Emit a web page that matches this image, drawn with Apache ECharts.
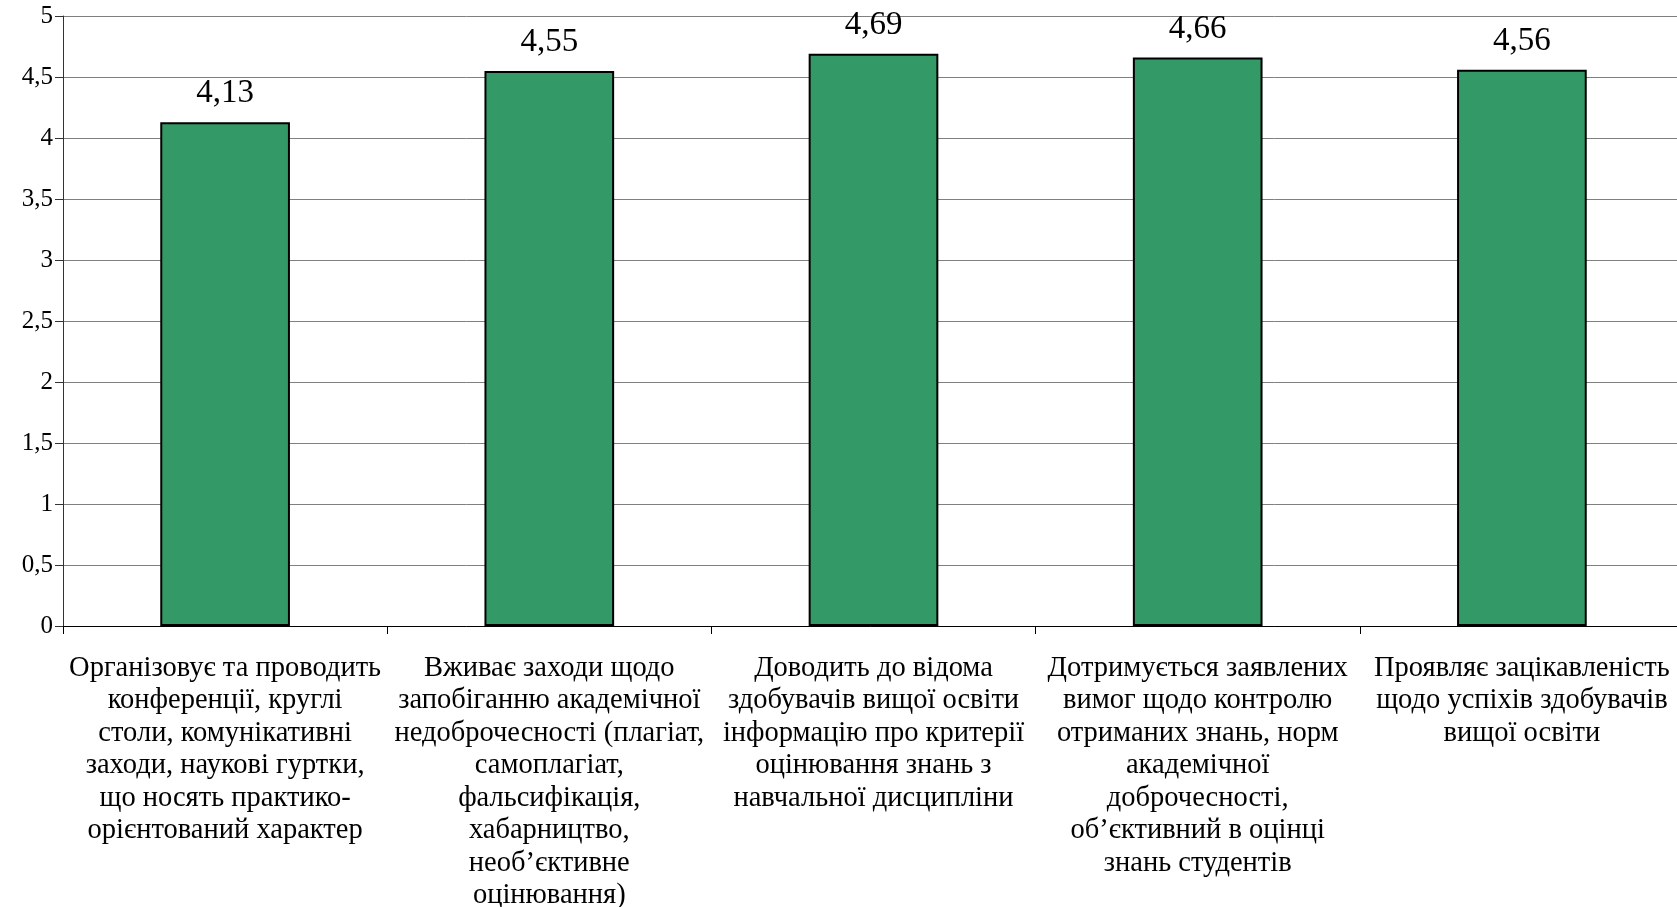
<!DOCTYPE html>
<html><head><meta charset="utf-8">
<script src="https://cdn.jsdelivr.net/npm/echarts@6/dist/echarts.min.js"></script>
<style>html,body{margin:0;padding:0;background:#fff}#c{width:1677px;height:907px}</style>
</head><body><div id="c"></div>
<script>
const categories = [
  "Організовує та проводить\nконференції, круглі\nстоли, комунікативні\nзаходи, наукові гуртки,\nщо носять практико-\nорієнтований характер",
  "Вживає заходи щодо\nзапобіганню академічної\nнедоброчесності (плагіат,\nсамоплагіат,\nфальсифікація,\nхабарництво,\nнеоб’єктивне\nоцінювання)",
  "Доводить до відома\nздобувачів вищої освіти\nінформацію про критерії\nоцінювання знань з\nнавчальної дисципліни",
  "Дотримується заявлених\nвимог щодо контролю\nотриманих знань, норм\nакадемічної\nдоброчесності,\nоб’єктивний в оцінці\nзнань студентів",
  "Проявляє зацікавленість\nщодо успіхів здобувачів\nвищої освіти"
];
const values = [4.13, 4.55, 4.69, 4.66, 4.56];
const yMin = 0, yMax = 5, yStep = 0.5;

const font = '"Liberation Serif", "Times New Roman", serif';
const chart = echarts.init(document.getElementById('c'));
chart.setOption({
  animation: false,
  grid: { left: 63, width: 1621, top: 16, bottom: 281, containLabel: false, outerBoundsMode: 'none' },
  xAxis: {
    type: 'category',
    data: categories,
    axisLine: { lineStyle: { color: '#000', width: 1 } },
    axisTick: { show: true, length: 8, lineStyle: { color: '#000' } },
    axisLabel: { interval: 0, margin: 26, color: '#000', fontFamily: font, fontSize: 28.5, lineHeight: 32.5, align: 'center', hideOverlap: false },
    splitLine: { show: false }
  },
  yAxis: {
    type: 'value', min: yMin, max: yMax, interval: yStep,
    axisLine: { show: true, lineStyle: { color: '#333', width: 1 } },
    axisTick: { show: true, length: 8, lineStyle: { color: '#333' } },
    axisLabel: { margin: 10, color: '#000', fontFamily: font, fontSize: 25,
      formatter: v => String(v).replace('.', ',') },
    splitLine: { show: true, lineStyle: { color: '#808080', width: 1 } }
  },
  series: [{
    type: 'bar',
    data: values,
    barWidth: '40%',
    itemStyle: { color: '#339966', borderColor: '#000', borderWidth: 2 },
    label: { show: true, position: 'top', distance: 12, color: '#000', fontFamily: font, fontSize: 33,
      formatter: p => String(p.value).replace('.', ',') }
  }]
});
</script></body></html>
